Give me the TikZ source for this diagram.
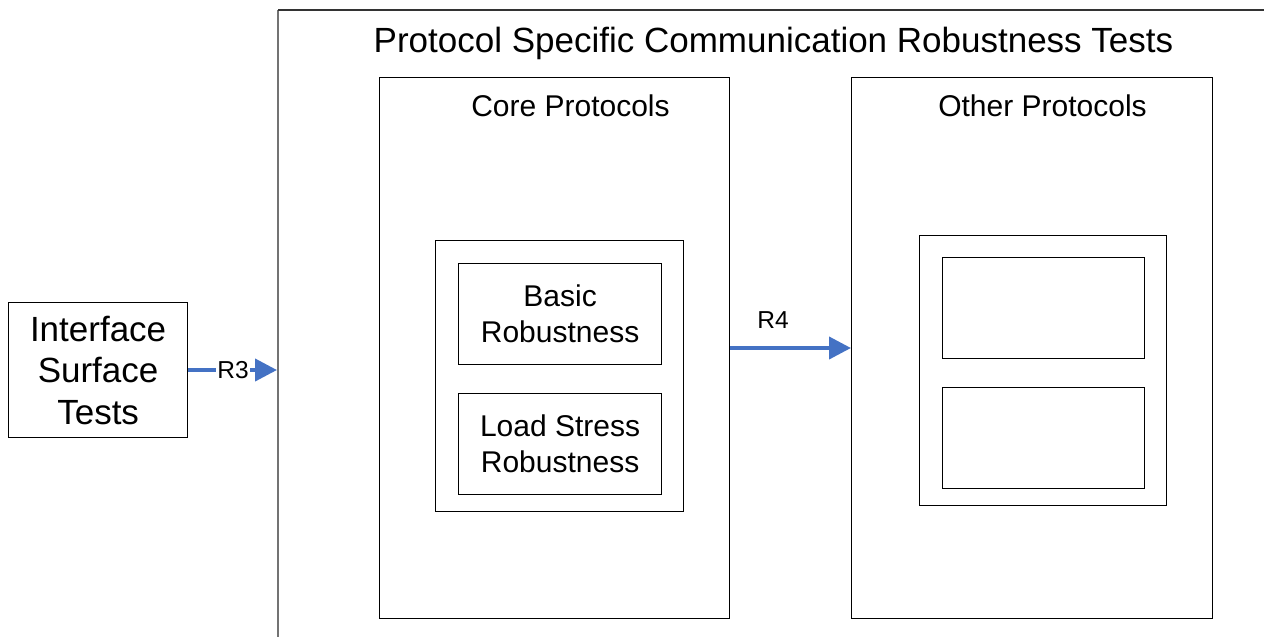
\documentclass[tikz,border=0pt]{standalone}
\usepackage{fontspec}
\setmainfont{Liberation Sans}
\usetikzlibrary{arrows.meta}
\definecolor{arrowblue}{HTML}{4472C4}
\tikzset{
  box/.style={draw=black, line width=1.2pt, fill=white, inner sep=0pt, anchor=north west},
  bigtext/.style={font=\fontsize{35}{41.5}\selectfont, align=center, inner sep=0pt},
  midtext/.style={font=\fontsize{30}{36}\selectfont, align=center, inner sep=0pt},
  lbl/.style={font=\fontsize{24.5}{29}\selectfont, inner sep=1pt},
  flow/.style={draw=arrowblue, line width=4pt, -{Triangle[length=22pt,width=22pt]}}
}
\begin{document}
\begin{tikzpicture}[x=1pt,y=-1pt]
\useasboundingbox (0,0) rectangle (1264,637);
% outer open frame
\coordinate (ol) at (278,637);
\coordinate (otl) at (278,10);
\coordinate (otr) at (1264,10);
\draw[black!55, line width=1.5pt] (ol) -- (otl);
\draw[black!80, line width=1.5pt] (otl) -- (otr);
\node[bigtext] (title) at (773.5,43) {Protocol Specific Communication Robustness Tests};
% core
\node[box, minimum width=350pt, minimum height=541pt] (core) at (379,77) {};
\node[midtext] (coret) at (570.5,106) {Core Protocols};
\node[box, minimum width=248pt, minimum height=271pt] (corein) at (435,240) {};
\node[box, minimum width=203pt, minimum height=101pt] (basic) at (458,263) {};
\node[midtext] at (basic.center) {Basic\\Robustness};
\node[box, minimum width=203pt, minimum height=101pt] (load) at (458,393) {};
\node[midtext] at (load.center) {Load Stress\\Robustness};
% other
\node[box, minimum width=361pt, minimum height=541pt] (other) at (851,77) {};
\node[midtext] (othert) at (1042.5,106) {Other Protocols};
\node[box, minimum width=247pt, minimum height=270pt] (otherin) at (919,235) {};
\node[box, minimum width=202pt, minimum height=101pt] (o1) at (942,257) {};
\node[box, minimum width=202pt, minimum height=101pt] (o2) at (942,387) {};
% interface
\node[box, minimum width=179pt, minimum height=135pt] (iface) at (8,302) {};
\node[bigtext] at (iface.center) {Interface\\Surface\\Tests};
% arrows
\coordinate (r3end) at (277,370);
\draw[flow] (iface.east |- r3end) -- (r3end);
\node[lbl, fill=white] (r3) at (233,370) {R3};
\draw[flow] (core.east |- 0,348) -- (other.west |- 0,348);
\node[lbl] (r4) at (773,320) {R4};
\end{tikzpicture}
\end{document}
